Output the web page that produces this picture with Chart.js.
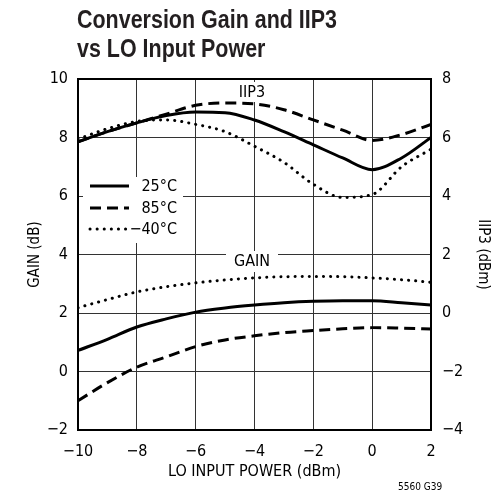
<!DOCTYPE html>
<html>
<head>
<meta charset="utf-8">
<script src="https://cdn.jsdelivr.net/npm/chart.js@4/dist/chart.umd.min.js"></script>
<style>
  body { margin: 0; background: #fff; }
  #wrap { width: 499px; height: 493px; }
</style>
</head>
<body>
<div id="wrap"><canvas id="chart" width="499" height="493"></canvas></div>
<script>
// DATA
const loPower = [-10, -9, -8, -7, -6, -5, -4, -3, -2, -1, 0, 1, 2];

// IIP3 (dBm), right axis
const iip3_25 = [5.85, 6.2, 6.5, 6.75, 6.87, 6.85, 6.6, 6.2, 5.75, 5.3, 4.9, 5.3, 6.0];
const iip3_85 = [5.85, 6.2, 6.5, 6.8, 7.1, 7.18, 7.15, 6.95, 6.6, 6.25, 5.9, 6.1, 6.45];
const iip3_m40 = [5.95, 6.3, 6.55, 6.6, 6.45, 6.2, 5.7, 5.15, 4.4, 3.95, 4.05, 5.0, 5.6];

// GAIN (dB), left axis
const gain_25 = [0.72, 1.1, 1.52, 1.8, 2.03, 2.17, 2.27, 2.35, 2.4, 2.42, 2.42, 2.35, 2.27];
const gain_85 = [-1.0, -0.38, 0.15, 0.5, 0.85, 1.08, 1.22, 1.33, 1.4, 1.46, 1.5, 1.48, 1.45];
const gain_m40 = [2.18, 2.46, 2.72, 2.9, 3.03, 3.13, 3.2, 3.24, 3.25, 3.24, 3.2, 3.14, 3.05];

const xTicks = [-10, -8, -6, -4, -2, 0, 2];
const gainTicks = [-2, 0, 2, 4, 6, 8, 10];
const iip3Ticks = [-4, -2, 0, 2, 4, 6, 8];
const legendNames = ["25\u00B0C", "85\u00B0C", "\u221240\u00B0C"];

const FONT = "'DejaVu Sans Condensed', sans-serif";

function pts(arr) {
    return loPower.map((x, i) => ({ x: x, y: arr[i] }));
}
function minus(v) {
    return v < 0 ? "\u2212" + Math.abs(v) : String(v);
}

const styles = [
    { borderDash: [], borderCapStyle: "butt" },
    { borderDash: [11, 6], borderCapStyle: "butt" },
    { borderDash: [0.1, 7], borderCapStyle: "round" }
];

function ds(arr, s, axis) {
    return {
        data: pts(arr),
        yAxisID: axis,
        borderColor: "#000",
        borderWidth: 3,
        borderDash: styles[s].borderDash,
        borderCapStyle: styles[s].borderCapStyle,
        pointRadius: 0,
        cubicInterpolationMode: "monotone",
        fill: false
    };
}

// EXTRA DRAWING: title, labels, legend, frame
const extras = {
    id: "extras",
    beforeDatasetsDraw(chart) {
        const ctx = chart.ctx;
        const a = chart.chartArea;
        ctx.save();
        ctx.fillStyle = "#fff";
        // label and legend boxes
        ctx.fillRect(232, 82, 40, 20);
        ctx.fillRect(226, 251, 52, 21);
        ctx.fillRect(83, 177, 100, 66);
        // frame
        ctx.strokeStyle = "#000";
        ctx.lineWidth = 2;
        ctx.strokeRect(a.left, a.top, a.right - a.left, a.bottom - a.top);
        ctx.fillStyle = "#000";
        ctx.font = "16px " + FONT;
        ctx.textAlign = "center";
        ctx.textBaseline = "middle";
        ctx.fillText("IIP3", 252, 93);
        ctx.fillText("GAIN", 252, 262);
        // legend
        const rows = [186, 208, 229];
        rows.forEach((y, i) => {
            ctx.beginPath();
            ctx.lineWidth = 3;
            ctx.setLineDash(styles[i].borderDash);
            ctx.lineCap = styles[i].borderCapStyle;
            ctx.moveTo(90, y);
            ctx.lineTo(129, y);
            ctx.stroke();
            ctx.setLineDash([]);
            ctx.textAlign = "right";
            ctx.fillText(legendNames[i], 177, y + 1);
        });
        ctx.restore();
    },
    afterDraw(chart) {
        const ctx = chart.ctx;
        ctx.save();
        ctx.fillStyle = "#231f20";
        ctx.textAlign = "left";
        ctx.textBaseline = "alphabetic";
        ctx.font = "bold 26px 'Liberation Sans', Arial, sans-serif";
        // squeeze to the condensed look of the original
        const k = 260 / ctx.measureText("Conversion Gain and IIP3").width;
        ctx.translate(77, 0);
        ctx.scale(k, 1);
        ctx.fillText("Conversion Gain and IIP3", 0, 28);
        ctx.fillText("vs LO Input Power", 0, 57);
        ctx.restore();
        ctx.save();
        ctx.font = "10px " + FONT;
        ctx.fillStyle = "#000";
        ctx.fillText("5560 G39", 398, 490);
        ctx.restore();
    }
};

new Chart(document.getElementById("chart"), {
    type: "line",
    data: {
        datasets: [
            ds(iip3_25, 0, "y2"),
            ds(iip3_85, 1, "y2"),
            ds(iip3_m40, 2, "y2"),
            ds(gain_25, 0, "y"),
            ds(gain_85, 1, "y"),
            ds(gain_m40, 2, "y")
        ]
    },
    options: {
        responsive: false,
        animation: false,
        layout: { padding: { top: 79 } },
        plugins: { legend: { display: false }, tooltip: { enabled: false } },
        scales: {
            x: {
                type: "linear",
                min: xTicks[0],
                max: xTicks[xTicks.length - 1],
                afterBuildTicks: s => { s.ticks = xTicks.map(v => ({ value: v })); },
                afterFit: s => { s.height = 63; },
                ticks: { callback: minus, color: "#000", font: { family: FONT, size: 16 }, padding: 12 },
                grid: { color: "#333", lineWidth: 1, drawTicks: false },
                border: { display: false },
                title: {
                    display: true, text: "LO INPUT POWER (dBm)", color: "#000",
                    font: { family: FONT, size: 16 }, padding: { bottom: 12 }
                }
            },
            y: {
                position: "left",
                min: gainTicks[0],
                max: gainTicks[gainTicks.length - 1],
                afterBuildTicks: s => { s.ticks = gainTicks.map(v => ({ value: v })); },
                afterFit: s => { s.width = 78; },
                ticks: { callback: minus, color: "#000", font: { family: FONT, size: 16 }, padding: 10 },
                grid: { color: "#333", lineWidth: 1, drawTicks: false },
                border: { display: false },
                title: {
                    display: true, text: "GAIN (dB)", color: "#000",
                    font: { family: FONT, size: 15 }, padding: { top: 26 }
                }
            },
            y2: {
                position: "right",
                min: iip3Ticks[0],
                max: iip3Ticks[iip3Ticks.length - 1],
                afterBuildTicks: s => { s.ticks = iip3Ticks.map(v => ({ value: v })); },
                afterFit: s => { s.width = 68; },
                ticks: { callback: minus, color: "#000", font: { family: FONT, size: 16 }, padding: 11 },
                grid: { display: false, drawTicks: false },
                border: { display: false },
                title: {
                    display: true, text: "IIP3 (dBm)", color: "#000",
                    font: { family: FONT, size: 15 }, padding: { top: 7 }
                }
            }
        }
    },
    plugins: [extras]
});
</script>
</body>
</html>
